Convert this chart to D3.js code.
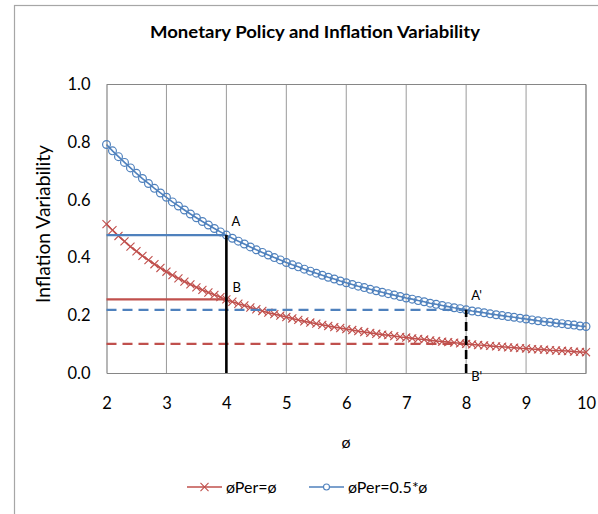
<!DOCTYPE html>
<html>
<head>
<meta charset="utf-8">
<script src="https://cdn.jsdelivr.net/npm/d3@7"></script>
<style>
  body { margin: 0; background: #fff; }
  text { font-family: Lato, "Open Sans", sans-serif; fill: #000; }
</style>
</head>
<body>
<svg id="chart" width="598" height="514"></svg>
<script>
// phi from 2 to 10, step 0.1
const phi = d3.range(81).map(i => +(2 + i / 10).toFixed(1));

// inflation variability, phiPer = phi
const redValues = [
  0.516, 0.495, 0.475, 0.456, 0.438, 0.422, 0.406, 0.391, 0.377, 0.364,
  0.351, 0.339, 0.328, 0.317, 0.307, 0.297, 0.288, 0.279, 0.271, 0.263,
  0.255, 0.247, 0.240, 0.234, 0.227, 0.221, 0.215, 0.209, 0.204, 0.199,
  0.194, 0.189, 0.184, 0.179, 0.175, 0.171, 0.167, 0.163, 0.159, 0.156,
  0.152, 0.149, 0.145, 0.142, 0.139, 0.136, 0.133, 0.131, 0.128, 0.125,
  0.123, 0.120, 0.118, 0.116, 0.113, 0.111, 0.109, 0.107, 0.105, 0.103,
  0.101, 0.099, 0.097, 0.096, 0.094, 0.092, 0.091, 0.089, 0.088, 0.086,
  0.085, 0.083, 0.082, 0.081, 0.079, 0.078, 0.077, 0.076, 0.074, 0.073,
  0.072
];

// inflation variability, phiPer = 0.5*phi
const blueValues = [
  0.792, 0.770, 0.750, 0.730, 0.711, 0.692, 0.674, 0.657, 0.640, 0.624,
  0.609, 0.593, 0.579, 0.565, 0.551, 0.538, 0.525, 0.513, 0.501, 0.489,
  0.478, 0.467, 0.457, 0.447, 0.437, 0.427, 0.418, 0.409, 0.400, 0.392,
  0.383, 0.375, 0.368, 0.360, 0.353, 0.346, 0.339, 0.332, 0.326, 0.319,
  0.313, 0.307, 0.301, 0.296, 0.290, 0.285, 0.280, 0.275, 0.270, 0.265,
  0.260, 0.256, 0.251, 0.247, 0.242, 0.238, 0.234, 0.230, 0.226, 0.223,
  0.219, 0.215, 0.212, 0.209, 0.205, 0.202, 0.199, 0.196, 0.193, 0.190,
  0.187, 0.184, 0.181, 0.178, 0.176, 0.173, 0.171, 0.168, 0.166, 0.163,
  0.161
];

const seriesNames = ['øPer=ø', 'øPer=0.5*ø'];
const xTicks = [2, 3, 4, 5, 6, 7, 8, 9, 10];
const yTicks = [0.0, 0.2, 0.4, 0.6, 0.8, 1.0];

// reference points: A, B at phi=4 and A', B' at phi=8
const refPoints = [
  { label: 'A', phi: 4, series: 'blue' },
  { label: 'B', phi: 4, series: 'red' },
  { label: "A'", phi: 8, series: 'blue' },
  { label: "B'", phi: 8, series: 'red' }
];

const RED = '#C0504D';
const BLUE = '#4F81BD';

const svg = d3.select('#chart');

// chart border
svg.append('rect')
  .attr('x', 14.5).attr('y', 5.5)
  .attr('width', 600).attr('height', 520)
  .attr('fill', 'none').attr('stroke', '#a6a6a6').attr('stroke-width', 1.2);

const plot = { left: 106.5, right: 586, top: 84.5, bottom: 373 };

const x = d3.scaleLinear().domain([2, 10]).range([plot.left, plot.right]);
const y = d3.scaleLinear().domain([0, 1]).range([plot.bottom, plot.top]);

// title
svg.append('text')
  .attr('x', 315).attr('y', 38)
  .attr('text-anchor', 'middle')
  .attr('textLength', 330).attr('lengthAdjust', 'spacingAndGlyphs')
  .style('font-weight', 'bold').style('font-size', '17px')
  .text('Monetary Policy and Inflation Variability');

// vertical grid
svg.append('g')
  .selectAll('line')
  .data(xTicks.slice(1, -1))
  .join('line')
  .attr('x1', d => x(d)).attr('x2', d => x(d))
  .attr('y1', plot.top).attr('y2', plot.bottom)
  .attr('stroke', '#9a9a9a').attr('stroke-width', 1);

// plot frame
svg.append('line')
  .attr('x1', plot.left).attr('x2', plot.right)
  .attr('y1', plot.top).attr('y2', plot.top)
  .attr('stroke', '#868686').attr('stroke-width', 1);
svg.append('line')
  .attr('x1', x(10)).attr('x2', x(10))
  .attr('y1', plot.top).attr('y2', plot.bottom)
  .attr('stroke', '#555').attr('stroke-width', 1);

// axes
const xAxis = svg.append('g')
  .attr('transform', `translate(0,${plot.bottom})`)
  .call(d3.axisBottom(x).tickValues(xTicks).tickSize(0).tickPadding(24).tickFormat(d3.format('d')));
const yAxis = svg.append('g')
  .attr('transform', `translate(${plot.left},0)`)
  .call(d3.axisLeft(y).tickValues(yTicks).tickSize(0).tickPadding(16).tickFormat(d3.format('.1f')));

[xAxis, yAxis].forEach(g => {
  g.select('.domain').attr('stroke', '#868686').attr('stroke-width', 1.2);
  g.selectAll('text').style('font-size', '16.5px').style('font-family', 'Lato, sans-serif').attr('fill', '#000');
});

// axis titles
svg.append('text')
  .attr('x', 346).attr('y', 448)
  .attr('text-anchor', 'middle')
  .style('font-size', '16px')
  .text('ø');
svg.append('text')
  .attr('transform', 'translate(50,224) rotate(-90)')
  .attr('text-anchor', 'middle')
  .attr('textLength', 158).attr('lengthAdjust', 'spacingAndGlyphs')
  .style('font-size', '20px')
  .text('Inflation Variability');

const redData = phi.map((p, i) => ({ phi: p, v: redValues[i] }));
const blueData = phi.map((p, i) => ({ phi: p, v: blueValues[i] }));

const line = d3.line().x(d => x(d.phi)).y(d => y(d.v));

// red series
svg.append('path')
  .datum(redData)
  .attr('d', line)
  .attr('fill', 'none').attr('stroke', RED).attr('stroke-width', 1.6);
const cross = d3.symbol().type(d3.symbolX).size(44);
svg.append('g')
  .selectAll('path')
  .data(redData)
  .join('path')
  .attr('transform', d => `translate(${x(d.phi)},${y(d.v)})`)
  .attr('d', cross)
  .attr('fill', 'none').attr('stroke', RED).attr('stroke-width', 1.1);

// blue series
svg.append('path')
  .datum(blueData)
  .attr('d', line)
  .attr('fill', 'none').attr('stroke', BLUE).attr('stroke-width', 1.6);
svg.append('g')
  .selectAll('circle')
  .data(blueData)
  .join('circle')
  .attr('cx', d => x(d.phi)).attr('cy', d => y(d.v))
  .attr('r', 3.9)
  .attr('fill', 'none').attr('stroke', BLUE).attr('stroke-width', 1.2);

// reference lines
const valueAt = (series, p) => {
  const i = phi.indexOf(p);
  return series === 'blue' ? blueValues[i] : redValues[i];
};

refPoints.forEach(r => {
  const v = valueAt(r.series, r.phi);
  svg.append('line')
    .attr('x1', x(2)).attr('x2', x(r.phi))
    .attr('y1', y(v)).attr('y2', y(v))
    .attr('stroke', r.series === 'blue' ? BLUE : RED)
    .attr('stroke-width', 2.2)
    .attr('stroke-dasharray', r.phi === 8 ? '10,6' : null);
});

[4, 8].forEach(p => {
  svg.append('line')
    .attr('x1', x(p)).attr('x2', x(p))
    .attr('y1', y(0)).attr('y2', y(valueAt('blue', p)))
    .attr('stroke', '#000').attr('stroke-width', 2.6)
    .attr('stroke-dasharray', p === 8 ? '9,5' : null);
});

// point labels
const labelPos = { 'A': [5, -9], 'B': [6, -7], "A'": [5, -10], "B'": [5, 37] };
svg.append('g')
  .selectAll('text')
  .data(refPoints)
  .join('text')
  .attr('x', d => x(d.phi) + labelPos[d.label][0])
  .attr('y', d => y(valueAt(d.series, d.phi)) + labelPos[d.label][1])
  .style('font-size', '13px')
  .text(d => d.label);

// legend
const legend = svg.append('g').attr('transform', 'translate(0,487)');
const legendItems = [
  { name: seriesNames[0], color: RED, x0: 187, kind: 'x' },
  { name: seriesNames[1], color: BLUE, x0: 309, kind: 'o' }
];
legendItems.forEach(it => {
  legend.append('line')
    .attr('x1', it.x0).attr('x2', it.x0 + 35)
    .attr('y1', 0).attr('y2', 0)
    .attr('stroke', it.color).attr('stroke-width', 1.6);
  if (it.kind === 'x') {
    legend.append('path')
      .attr('transform', `translate(${it.x0 + 17.5},0)`)
      .attr('d', cross)
      .attr('fill', 'none').attr('stroke', it.color).attr('stroke-width', 1.1);
  } else {
    legend.append('circle')
      .attr('cx', it.x0 + 17.5).attr('cy', 0).attr('r', 3)
      .attr('fill', '#fff').attr('stroke', it.color).attr('stroke-width', 1.1);
  }
  legend.append('text')
    .attr('x', it.x0 + 39).attr('y', 6)
    .style('font-size', '16px')
    .text(it.name);
});
</script>
</body>
</html>
